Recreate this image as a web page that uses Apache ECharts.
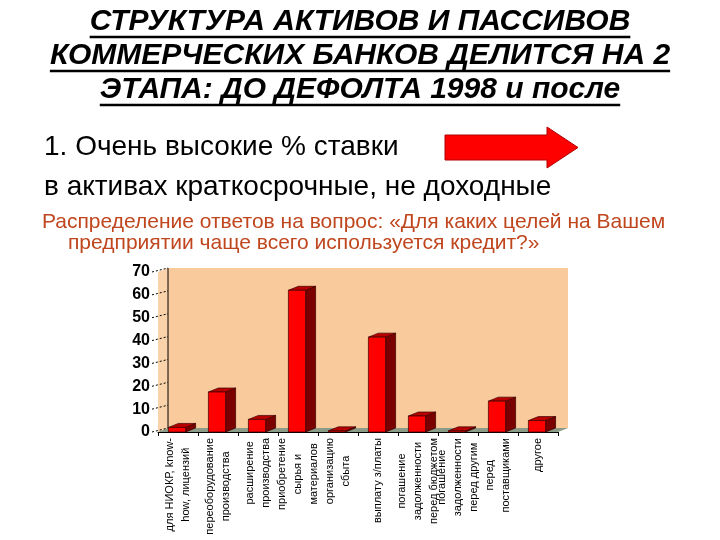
<!DOCTYPE html>
<html>
<head>
<meta charset="utf-8">
<title>Структура активов и пассивов</title>
<script src="https://cdn.jsdelivr.net/npm/echarts@6/dist/echarts.min.js"></script>
<style>
  html, body { margin: 0; padding: 0; background: #fff; }
  #chart { width: 720px; height: 540px; }
</style>
</head>
<body>
<div id="chart"></div>
<script>
// цели кредита (подписи по оси X, строки через \n)
const categories = [
  'для НИОКР, know-\nhow, лицензий',
  'переоборудование\nпроизводства',
  'расширение\nпроизводства',
  'приобретение\nсырья и\nматериалов',
  'организацию\nсбыта',
  'выплату з/платы',
  'погашение\nзадолженности\nперед бюджетом',
  'погашение\nзадолженности\nперед другим',
  'перед\nпоставщиками',
  'другое'
]
// доля ответов, %
const shares = [2, 17.5, 5.5, 62, 0.5, 41.5, 7, 0.5, 13.5, 5]
// ось Y
const yMin = 0
const yMax = 70
const yStep = 10

const titleLines = [
  'СТРУКТУРА АКТИВОВ И ПАССИВОВ',
  'КОММЕРЧЕСКИХ БАНКОВ ДЕЛИТСЯ НА 2',
  'ЭТАПА: ДО ДЕФОЛТА 1998 и после'
]
const textLines = [
  '1. Очень высокие % ставки',
  'в активах краткосрочные, не доходные'
]
const noteLines = [
  'Распределение ответов на вопрос: «Для каких целей на Вашем',
  'предприятии чаще всего используется кредит?»'
]

const FONT = '"Liberation Sans", Arial, sans-serif'
const titleFont = 'italic bold 30px ' + FONT
const DX = 10 // глубина "3D" по x
const DY = 4  // глубина "3D" по y

// ширина текста для подчёркивания
function textWidth (text, font) {
  const ctx = document.createElement('canvas').getContext('2d')
  ctx.font = font
  return ctx.measureText(text).width
}

const graphics = []
titleLines.forEach((line, i) => {
  const cy = 22 + i * 34
  const w = textWidth(line, titleFont)
  graphics.push({
    type: 'text',
    style: { text: line, x: 360, y: cy, align: 'center', verticalAlign: 'middle', font: titleFont, fill: '#000' }
  })
  graphics.push({
    type: 'line',
    shape: { x1: 360 - w / 2, y1: cy + 15, x2: 360 + w / 2, y2: cy + 15 },
    style: { stroke: '#000', lineWidth: 2.5 }
  })
})
textLines.forEach((line, i) => {
  graphics.push({
    type: 'text',
    style: { text: line, x: 44, y: 147 + i * 40, align: 'left', verticalAlign: 'middle', font: '28px ' + FONT, fill: '#000' }
  })
})
noteLines.forEach((line, i) => {
  graphics.push({
    type: 'text',
    style: { text: line, x: i === 0 ? 42 : 68, y: 222 + i * 21, align: 'left', verticalAlign: 'middle', font: '21px ' + FONT, fill: '#C0461E' }
  })
})
// красная стрелка
graphics.push({
  type: 'polygon',
  shape: { points: [[445, 135], [547, 135], [547, 127], [578, 147.5], [547, 168], [547, 160], [445, 160]] },
  style: { fill: '#FF0000', stroke: '#B00000', lineWidth: 1 }
})

// задняя стенка, пол, задняя ось и пунктирные засечки
function renderWalls (params, api) {
  const r = params.coordSys
  const x0 = r.x, x1 = r.x + r.width, y0 = r.y, y1 = r.y + r.height
  const children = [
    { type: 'rect', shape: { x: x0 + DX, y: y0 - DY, width: r.width, height: r.height }, style: { fill: '#F9CB9C' } },
    { type: 'polygon', shape: { points: [[x0, y0], [x0 + DX, y0 - DY], [x0 + DX, y1 - DY], [x0, y1]] }, style: { fill: '#FBD3AA' } },
    { type: 'polygon', shape: { points: [[x0, y1], [x1, y1], [x1 + DX, y1 - DY], [x0 + DX, y1 - DY]] }, style: { fill: '#8A9C88' } },
    { type: 'line', shape: { x1: x0 + DX, y1: y0 - DY, x2: x0 + DX, y2: y1 - DY }, style: { stroke: '#000', lineWidth: 1 } }
  ]
  for (let v = yMin; v <= yMax; v += yStep) {
    const y = api.coord([0, v])[1]
    children.push({
      type: 'line',
      shape: { x1: x0 - 6, y1: y, x2: x0 + DX, y2: y - DY },
      style: { stroke: '#000', lineWidth: 1, lineDash: [2, 2] }
    })
  }
  return { type: 'group', silent: true, children }
}

// объёмные столбики
function renderBar (params, api) {
  const idx = api.value(0)
  const base = api.coord([idx, 0])
  const top = api.coord([idx, api.value(1)])
  const w = api.size([1, 0])[0] * 0.43
  const x = base[0] - w / 2 - 1
  const yt = top[1], yb = base[1]
  const stroke = { stroke: '#3A0000', lineWidth: 0.7 }
  return {
    type: 'group',
    children: [
      { type: 'polygon', shape: { points: [[x + w, yt], [x + w + DX, yt - DY], [x + w + DX, yb - DY], [x + w, yb]] }, style: Object.assign({ fill: '#7A0000' }, stroke) },
      { type: 'polygon', shape: { points: [[x, yt], [x + DX, yt - DY], [x + w + DX, yt - DY], [x + w, yt]] }, style: Object.assign({ fill: '#B80000' }, stroke) },
      { type: 'rect', shape: { x: x, y: yt, width: w, height: yb - yt }, style: Object.assign({ fill: '#FF0000' }, stroke) }
    ]
  }
}

const chartInstance = echarts.init(document.getElementById('chart'))
const option = {
  backgroundColor: '#fff',
  animation: false,
  graphic: graphics,
  grid: { left: 158, top: 272, width: 400, height: 160 },
  xAxis: {
    type: 'category',
    data: categories,
    axisLine: { show: true, lineStyle: { color: '#000', width: 1 } },
    axisTick: { show: true, length: 4, lineStyle: { color: '#000' } },
    axisLabel: {
      interval: 0,
      rotate: 90,
      margin: 6,
      color: '#000',
      formatter: (val) => val.split('\n').map(s => '{c|' + s + '}').join('\n'),
      rich: {
        c: { align: 'center', fontSize: 11, lineHeight: 16, fontFamily: FONT, color: '#000' }
      }
    }
  },
  yAxis: {
    type: 'value',
    min: yMin,
    max: yMax,
    interval: yStep,
    axisLine: { show: false },
    axisTick: { show: false },
    axisLabel: { margin: 8, color: '#000', fontSize: 16, fontWeight: 'bold', fontFamily: FONT },
    splitLine: { show: false }
  },
  series: [
    {
      type: 'custom',
      name: 'walls',
      silent: true,
      z: 0,
      renderItem: renderWalls,
      data: [[0, 0]]
    },
    {
      type: 'custom',
      name: 'Доля ответов',
      z: 5,
      renderItem: renderBar,
      encode: { x: 0, y: 1 },
      data: shares.map((v, i) => [i, v])
    }
  ]
}
chartInstance.setOption(option)
</script>
</body>
</html>
